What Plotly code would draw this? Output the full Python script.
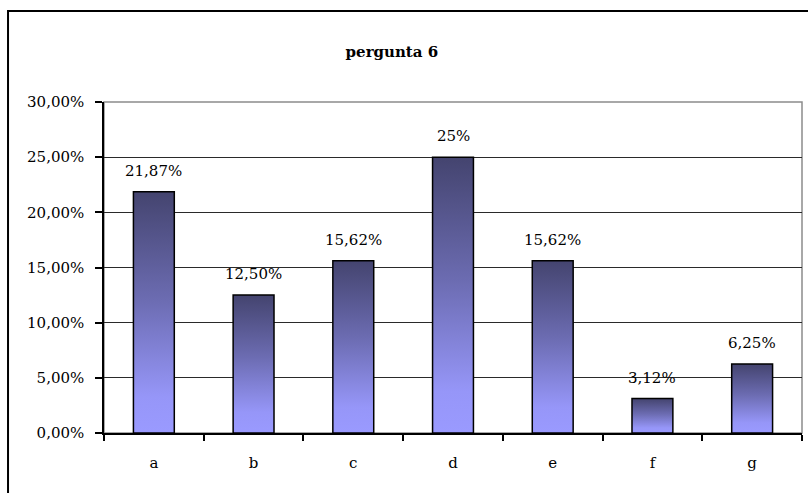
import plotly.graph_objects as go

# Respostas da pergunta 6
categorias = ["a", "b", "c", "d", "e", "f", "g"]
percentuais = [21.87, 12.50, 15.62, 25.0, 15.62, 3.12, 6.25]
rotulos = ["21,87%", "12,50%", "15,62%", "25%", "15,62%", "3,12%", "6,25%"]

y_ticks = [0, 5, 10, 15, 20, 25, 30]
y_tick_text = ["0,00%", "5,00%", "10,00%", "15,00%", "20,00%", "25,00%", "30,00%"]

FONT = "DejaVu Serif"
HALF_W = 0.205  # half of the bar width, in category units

gradiente = [[0.0, "#9A9AFF"], [0.15, "#9696F8"], [0.55, "#6C6CB2"], [1.0, "#44446F"]]

fig = go.Figure()

# Each bar is a filled outline so it can carry its own vertical gradient
for i, (cat, v) in enumerate(zip(categorias, percentuais)):
    xs = [i - HALF_W, i - HALF_W, i + HALF_W, i + HALF_W, i - HALF_W]
    ys = [0, v, v, 0, 0]
    fig.add_trace(go.Scatter(
        x=xs, y=ys, mode="lines", fill="toself",
        fillgradient=dict(type="vertical", colorscale=gradiente, start=0, stop=v),
        line=dict(color="#000000", width=1.5),
        hoverinfo="skip", showlegend=False, name=cat,
    ))

# Value labels above the bars
for i, (v, txt) in enumerate(zip(percentuais, rotulos)):
    fig.add_annotation(x=i, y=v, text=txt, showarrow=False,
                       yanchor="bottom", yshift=10,
                       font=dict(family=FONT, size=15, color="#000000"))

# Plot-area frame (grey top/right edges)
fig.add_shape(type="rect", xref="paper", yref="paper", x0=0, y0=0, x1=1, y1=1,
              line=dict(color="#8c8c8c", width=1.5), layer="below")

# Outer chart border
fig.add_shape(type="rect", xref="paper", yref="paper",
              x0=-0.1375, y0=-0.3, x1=1.05, y1=1.2749,
              line=dict(color="#000000", width=2))

fig.update_layout(
    width=808, height=493,
    margin=dict(l=104, r=6, t=102, b=60),
    paper_bgcolor="#FFFFFF", plot_bgcolor="#FFFFFF",
    title=dict(text="<b>pergunta 6</b>", x=0.485, xanchor="center",
               y=0.896, yanchor="middle",
               font=dict(family=FONT, size=15, color="#000000")),
    font=dict(family=FONT, size=15, color="#000000"),
)

fig.update_xaxes(
    range=[-0.5, 6.5], tickvals=list(range(len(categorias))), ticktext=categorias,
    ticks="", showgrid=False, zeroline=False,
    showline=True, linecolor="#000000", linewidth=1.5,
    minor=dict(tickvals=[k - 0.5 for k in range(len(categorias) + 1)],
               ticks="outside", ticklen=6, tickcolor="#000000", tickwidth=1.5,
               showgrid=False),
    tickfont=dict(family=FONT, size=15), ticklabelstandoff=15,
)

fig.update_yaxes(
    range=[0, 30], tickvals=y_ticks, ticktext=y_tick_text,
    ticks="outside", ticklen=7, tickcolor="#000000", tickwidth=1.5,
    showgrid=True, gridcolor="#2a2a2a", gridwidth=1,
    zeroline=False, showline=True, linecolor="#000000", linewidth=1.5,
    tickfont=dict(family=FONT, size=15), ticklabelstandoff=8,
)

fig.write_html("out.html")
